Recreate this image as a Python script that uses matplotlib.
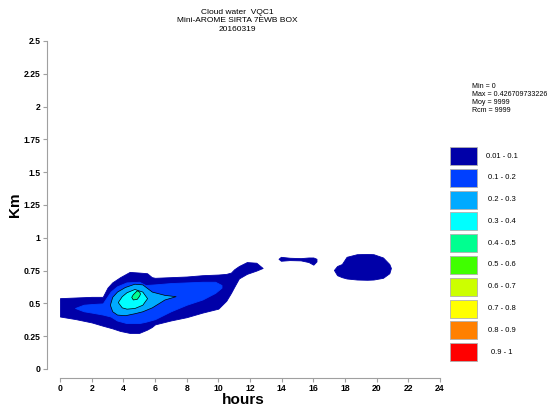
import matplotlib
matplotlib.use("Agg")
import matplotlib.pyplot as plt
from matplotlib.patches import Rectangle

plt.rcParams['font.family'] = ['Liberation Sans', 'DejaVu Sans']

# legend classes
class_labels = ["0.01 - 0.1", "0.1 - 0.2", "0.2 - 0.3", "0.3 - 0.4", "0.4 - 0.5",
                "0.5 - 0.6", "0.6 - 0.7", "0.7 - 0.8", "0.8 - 0.9", "0.9 - 1"]
class_colors = ["#0000A8", "#0040FF", "#00AAFF", "#00FFFF", "#00FF90",
                "#40FF00", "#CCFF00", "#FFFF00", "#FF8000", "#FF0000"]

# contour areas: hours, lower km, upper km
main_h = [0, 1, 2, 2.7, 3.0, 3.3, 3.8, 4.4, 5.0, 5.5, 5.8, 6.0, 7, 8, 9, 10, 10.5, 10.8, 11.0, 11.3, 11.8, 12.4, 12.8]
main_lo = [0.40, 0.38, 0.355, 0.33, 0.32, 0.31, 0.29, 0.275, 0.275, 0.30, 0.32, 0.34, 0.37, 0.395, 0.43, 0.46, 0.52, 0.58, 0.625, 0.69, 0.725, 0.75, 0.77]
main_hi = [0.54, 0.545, 0.55, 0.55, 0.62, 0.66, 0.70, 0.74, 0.735, 0.73, 0.70, 0.695, 0.70, 0.705, 0.715, 0.72, 0.725, 0.735, 0.76, 0.785, 0.815, 0.81, 0.77]

mid_h = [0.95, 1.5, 2, 2.7, 3.2, 3.6, 4.2, 5.0, 5.4, 6.0, 7, 8, 9, 9.8, 10.2]
mid_lo = [0.465, 0.44, 0.43, 0.415, 0.40, 0.37, 0.35, 0.35, 0.36, 0.38, 0.44, 0.49, 0.53, 0.58, 0.62]
mid_hi = [0.465, 0.49, 0.495, 0.50, 0.59, 0.63, 0.66, 0.665, 0.64, 0.645, 0.655, 0.66, 0.665, 0.665, 0.64]

light_h = [3.15, 3.3, 3.6, 4.1, 4.7, 5.2, 5.8, 6.6, 7.3]
light_lo = [0.49, 0.44, 0.415, 0.41, 0.425, 0.44, 0.47, 0.53, 0.555]
light_hi = [0.49, 0.55, 0.59, 0.625, 0.65, 0.645, 0.59, 0.565, 0.555]

cyan_h = [3.65, 3.9, 4.2, 4.7, 5.2, 5.5]
cyan_lo = [0.51, 0.47, 0.46, 0.465, 0.49, 0.54]
cyan_hi = [0.51, 0.555, 0.585, 0.61, 0.59, 0.54]

green_h = [4.5, 4.6, 4.85, 5.0, 5.05]
green_lo = [0.55, 0.53, 0.535, 0.56, 0.575]
green_hi = [0.55, 0.57, 0.60, 0.59, 0.575]

thin_h = [13.8, 13.95, 14.5, 15.2, 15.7, 16.0, 16.2]
thin_lo = [0.84, 0.825, 0.83, 0.828, 0.815, 0.795, 0.82]
thin_hi = [0.84, 0.855, 0.848, 0.845, 0.85, 0.85, 0.84]

right_h = [17.3, 17.5, 17.8, 18.1, 18.75, 19.4, 19.8, 20.4, 20.8, 20.9]
right_lo = [0.755, 0.715, 0.70, 0.69, 0.682, 0.68, 0.682, 0.695, 0.73, 0.77]
right_hi = [0.755, 0.785, 0.80, 0.855, 0.875, 0.877, 0.875, 0.85, 0.80, 0.77]

x_ticks = list(range(0, 25, 2))
y_ticks = [0, 0.25, 0.5, 0.75, 1, 1.25, 1.5, 1.75, 2, 2.25, 2.5]
y_ticklabels = ["0", "0.25", "0.5", "0.75", "1", "1.25", "1.5", "1.75", "2", "2.25", "2.5"]
stats = ["Min = 0", "Max = 0.426709733226", "Moy = 9999", "Rcm = 9999"]

regions = [
    (main_h, main_lo, main_hi, 0),
    (thin_h, thin_lo, thin_hi, 0),
    (right_h, right_lo, right_hi, 0),
    (mid_h, mid_lo, mid_hi, 1),
    (light_h, light_lo, light_hi, 2),
    (cyan_h, cyan_lo, cyan_hi, 3),
    (green_h, green_lo, green_hi, 4),
]

W, H = 550, 407
fig = plt.figure(figsize=(5.5, 4.07), dpi=100)
ax = fig.add_axes([47 / W, 1 - 369 / H, (440 - 47) / W, 328 / H])

for hh, lo, hi, k in regions:
    if k >= 2:
        ax.fill_between(hh, lo, hi, facecolor=class_colors[k], edgecolor="black", linewidth=0.5)
    else:
        ax.fill_between(hh, lo, hi, facecolor=class_colors[k], edgecolor=class_colors[k], linewidth=0.6)

ax.set_xlim(-0.82, 24)
ax.set_ylim(0, 2.5)
for s in ["top", "right"]:
    ax.spines[s].set_visible(False)
ax.spines["left"].set_bounds(0, 2.5)
ax.spines["left"].set_color("#a0a0a0")
ax.spines["bottom"].set_bounds(0, 24)
ax.spines["bottom"].set_color("#a0a0a0")
ax.spines["bottom"].set_position(("outward", 6.5))
ax.set_xticks(x_ticks)
ax.set_xticklabels([str(t) for t in x_ticks], fontsize=6.2, fontweight="bold")
ax.set_yticks(y_ticks)
ax.set_yticklabels(y_ticklabels, fontsize=6.2, fontweight="bold")
ax.tick_params(axis="both", colors="#a0a0a0", labelcolor="black", length=3, width=0.8, pad=1.5)
ax.set_xlabel("hours", fontsize=11, fontweight="bold", labelpad=0)
ax.set_ylabel("Km", fontsize=11, fontweight="bold", labelpad=2)
ax.yaxis.set_label_coords(-25 / (440 - 47), (369 - 205) / 328)

fig.text(237 / W, 1 - 12 / H, "Cloud water  VQC1", ha="center", va="center", fontsize=6)
fig.text(237 / W, 1 - 21 / H, "Mini-AROME SIRTA 7EWB BOX", ha="center", va="center", fontsize=6)
fig.text(237 / W, 1 - 29.5 / H, "20160319", ha="center", va="center", fontsize=6)

for i, line in enumerate(stats):
    fig.text(472 / W, 1 - (87 + 8 * i) / H, line, ha="left", va="center", fontsize=5.1)

# legend boxes
lax = fig.add_axes([0, 0, 1, 1])
lax.set_xlim(0, W)
lax.set_ylim(H, 0)
lax.axis("off")
for i, (lab, col) in enumerate(zip(class_labels, class_colors)):
    top = 147 + 21.8 * i
    lax.add_patch(Rectangle((450, top), 27, 18, facecolor=col, edgecolor="#b0b0b0", linewidth=0.6))
    lax.text(502, top + 9, lab, ha="center", va="center", fontsize=5.5)

fig.savefig("out.png", dpi=100)
